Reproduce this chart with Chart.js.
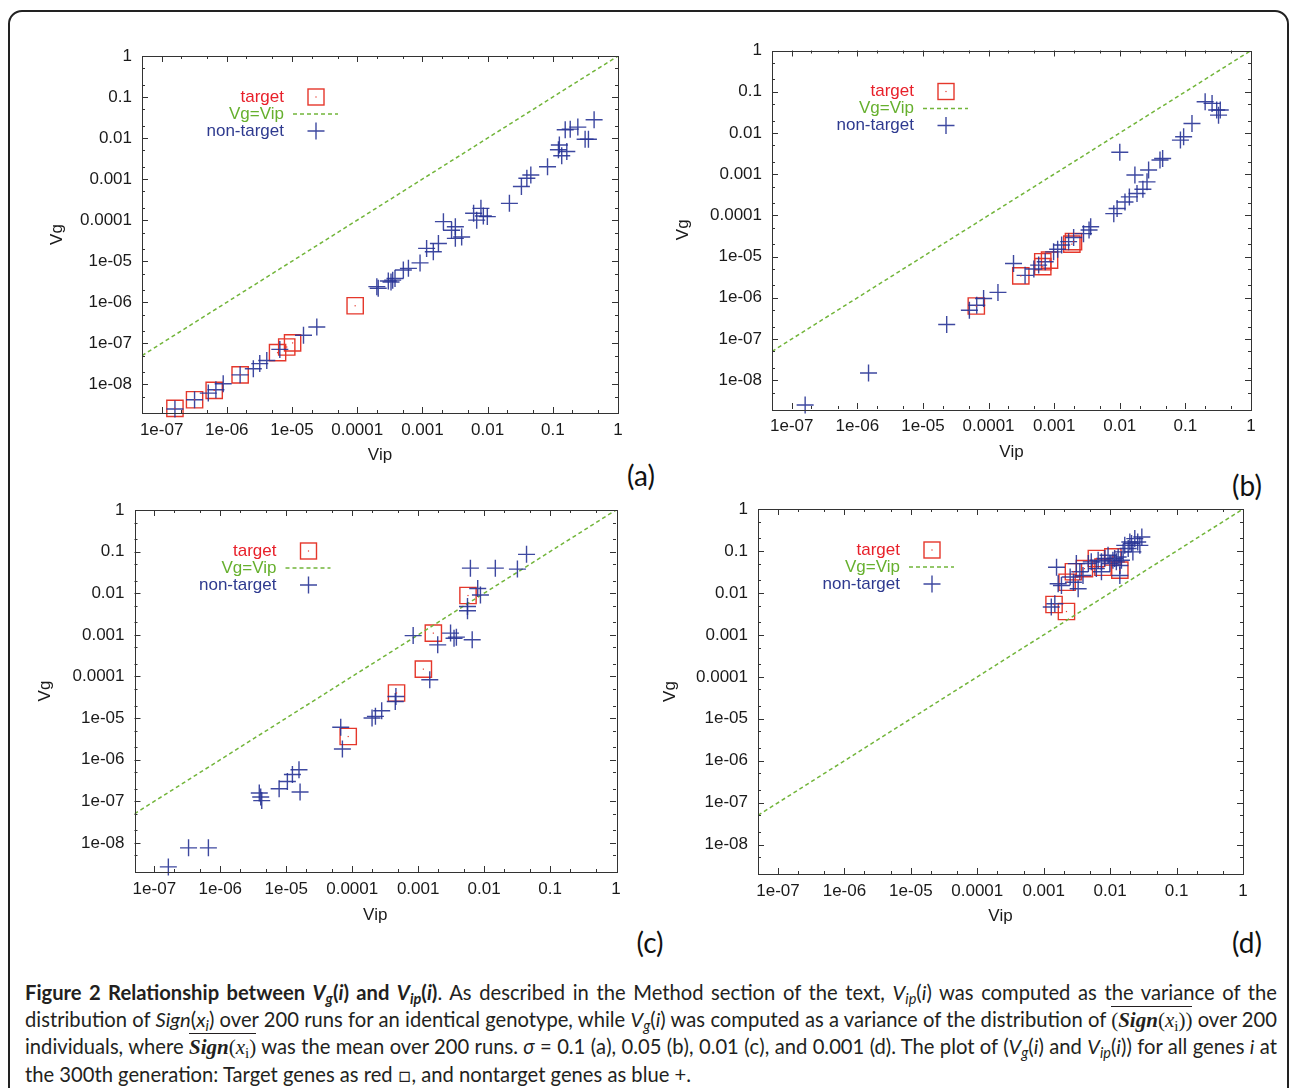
<!DOCTYPE html>
<html><head><meta charset="utf-8">
<script src="https://cdn.jsdelivr.net/npm/chart.js@4"></script>
<style>
html,body{margin:0;padding:0;background:#fff;}
body{width:1290px;height:1088px;position:relative;overflow:hidden;}
#frame{position:absolute;left:8px;top:10px;width:1281px;height:1200px;border:2px solid #222;border-radius:14px;box-sizing:border-box;}
canvas{position:absolute;}
.plab{position:absolute;font-family:Lato,'Open Sans',sans-serif;font-size:28px;color:#111;transform:translate(-50%,-50%);line-height:1;}
#cap{position:absolute;left:25px;top:979px;width:1252px;font-family:Lato,'Open Sans',sans-serif;font-size:20.2px;line-height:26.7px;color:#231f20;}
#cap .ln{white-space:nowrap;}
#cap .j{text-align:justify;text-align-last:justify;white-space:normal;}
#cap sub{font-size:0.72em;vertical-align:-0.28em;line-height:0;}
#cap .m{font-family:'Liberation Serif','DejaVu Serif',serif;font-size:21px;}
#cap .ov{border-top:1.6px solid #231f20;padding-top:1px;}
</style></head>
<body>
<div id="frame"></div>
<div class="plab" style="left:641px;top:475px">(a)</div>
<div class="plab" style="left:1247px;top:485px">(b)</div>
<div class="plab" style="left:650px;top:942px">(c)</div>
<div class="plab" style="left:1247px;top:942px">(d)</div>
<div id="cap">
<div class="ln j"><b>Figure 2 Relationship between <i>V</i><sub><i>g</i></sub>(<i>i</i>) and <i>V</i><sub><i>ip</i></sub>(<i>i</i>)</b>. As described in the Method section of the text, <i>V</i><sub><i>ip</i></sub>(<i>i</i>) was computed as the variance of the</div>
<div class="ln j">distribution of <i>Sign</i>(<i>x<sub>i</sub></i>) over 200 runs for an identical genotype, while <i>V</i><sub><i>g</i></sub>(<i>i</i>) was computed as a variance of the distribution of <span class="m"><span class="ov">(<b><i>Sign</i></b>(<i>x</i><sub>i</sub>))</span></span> over 200</div>
<div class="ln j">individuals, where <span class="m"><span class="ov"><b><i>Sign</i></b>(<i>x</i><sub>i</sub>)</span></span> was the mean over 200 runs. <i>σ</i> = 0.1 (a), 0.05 (b), 0.01 (c), and 0.001 (d). The plot of (<i>V</i><sub><i>g</i></sub>(<i>i</i>) and <i>V</i><sub><i>ip</i></sub>(<i>i</i>)) for all genes <i>i</i> at</div>
<div class="ln">the 300th generation: Target genes as red <span style="font-family:'DejaVu Sans'">▫</span>, and nontarget genes as blue +.</div>
</div>
<script>
// ---------- data ----------
const xTickValues = [1e-7, 1e-6, 1e-5, 1e-4, 1e-3, 1e-2, 1e-1, 1];
const xTickLabels = ['1e-07', '1e-06', '1e-05', '0.0001', '0.001', '0.01', '0.1', '1'];
const yTickValues = [1e-8, 1e-7, 1e-6, 1e-5, 1e-4, 1e-3, 1e-2, 1e-1, 1];
const yTickLabels = ['1e-08', '1e-07', '1e-06', '1e-05', '0.0001', '0.001', '0.01', '0.1', '1'];
const xRange = [5e-8, 1];
const yRange = [2e-9, 1];
const lineVip = [5e-8, 1];
const lineVg = [5e-8, 1];
const seriesNames = ['target', 'Vg=Vip', 'non-target'];

// panel (a) sigma = 0.1
const aTargetVip = [1.6e-7, 3.2e-7, 6.4e-7, 1.6e-6, 6.0e-6, 8.3e-6, 1.02e-5, 9.3e-5];
const aTargetVg  = [2.6e-9, 4.2e-9, 7.1e-9, 1.7e-8, 5.9e-8, 8.1e-8, 1.02e-7, 8.2e-7];
const aOtherVip = [1.6e-7, 3.2e-7, 5.2e-7, 6.8e-7, 8.8e-7, 1.6e-6, 2.55e-6, 3.2e-6, 4.1e-6, 6.5e-6, 1.5e-5, 2.4e-5,
  2.0e-4, 2.1e-4, 3.0e-4, 3.5e-4, 3.8e-4, 3.3e-4, 5.1e-4, 6.1e-4, 9.2e-4, 1.16e-3, 1.47e-3, 1.76e-3, 2.1e-3, 2.8e-3,
  3.2e-3, 3.2e-3, 4.0e-3, 6.1e-3, 6.8e-3, 7.9e-3, 8.6e-3, 9.9e-3, 2.16e-2, 3.3e-2, 4.0e-2, 4.6e-2, 8.3e-2, 0.122,
  0.137, 0.164, 0.126, 0.155, 0.185, 0.242, 0.313, 0.352, 0.43];
const aOtherVg = [2.5e-9, 4.2e-9, 6.1e-9, 7.4e-9, 1.03e-8, 1.7e-8, 2.4e-8, 3.2e-8, 3.8e-8, 7.1e-8, 1.57e-7, 2.5e-7,
  2.4e-6, 2.2e-6, 3.3e-6, 3.45e-6, 3.8e-6, 3.1e-6, 6.1e-6, 6.7e-6, 9.1e-6, 2.05e-5, 1.7e-5, 2.7e-5, 9.2e-5, 5.7e-5,
  6.9e-5, 3.6e-5, 3.9e-5, 1.47e-4, 1.0e-4, 1.94e-4, 1.26e-4, 1.22e-4, 2.57e-4, 6.6e-4, 1.05e-3, 1.26e-3, 2.0e-3, 5.2e-3,
  3.7e-3, 4.7e-3, 6.8e-3, 1.59e-2, 1.65e-2, 1.85e-2, 9.4e-3, 9.4e-3, 2.8e-2];

// panel (b) sigma = 0.05
const bTargetVip = [6.5e-5, 3.1e-4, 6.7e-4, 8.5e-4, 6.7e-4, 1.86e-3, 1.97e-3];
const bTargetVg  = [6.3e-7, 3.4e-6, 7.5e-6, 8.2e-6, 5.7e-6, 2.0e-5, 2.3e-5];
const bOtherVip = [1.6e-7, 1.48e-6, 2.3e-5, 5.1e-5, 6.6e-5, 8.4e-5, 1.39e-4, 2.4e-4, 3.6e-4, 4.9e-4, 5.8e-4, 7.3e-4,
  9.8e-4, 1.13e-3, 1.3e-3, 1.66e-3, 1.98e-3, 2.8e-3, 3.4e-3, 3.6e-3, 8.1e-3, 9.1e-3, 1.0e-2, 1.2e-2, 1.4e-2, 1.7e-2,
  1.83e-2, 2.25e-2, 2.6e-2, 2.75e-2, 4.1e-2, 4.5e-2, 8.4e-2, 9.4e-2, 0.126, 0.20, 0.255, 0.30, 0.34, 0.32];
const bOtherVg = [2.5e-9, 1.5e-8, 2.25e-7, 5.0e-7, 6.6e-7, 9.6e-7, 1.35e-6, 6.8e-6, 3.5e-6, 5.0e-6, 6.2e-6, 7.5e-6,
  1.3e-5, 1.5e-5, 1.9e-5, 2.3e-5, 2.9e-5, 3.6e-5, 4.4e-5, 5.3e-5, 1.1e-4, 1.47e-4, 3.4e-3, 2.1e-4, 2.8e-4, 9.5e-4,
  3.4e-4, 4.3e-4, 6.5e-4, 1.26e-3, 2.2e-3, 2.4e-3, 6.7e-3, 8.1e-3, 1.7e-2, 5.7e-2, 5.2e-2, 3.6e-2, 3.6e-2, 2.7e-2];

// panel (c) sigma = 0.01
const cTargetVip = [8.7e-5, 4.7e-4, 1.2e-3, 1.7e-3, 5.7e-3];
const cTargetVg  = [3.6e-6, 4.0e-5, 1.5e-4, 1.1e-3, 8.8e-3];
const cOtherVip = [1.63e-7, 3.3e-7, 6.6e-7, 3.9e-6, 4.1e-6, 4.25e-6, 7.8e-6, 1.04e-5, 1.24e-5, 1.56e-5, 1.62e-5, 6.7e-5,
  7.1e-5, 2.0e-4, 2.25e-4, 2.8e-4, 4.5e-4, 4.6e-4, 8.4e-4, 1.5e-3, 1.98e-3, 3.1e-3, 3.5e-3, 3.8e-3, 6.6e-3, 5.6e-3,
  5.6e-3, 6.2e-3, 8.0e-3, 8.8e-3, 1.48e-2, 3.2e-2, 4.4e-2];
const cOtherVg = [2.65e-9, 7.6e-9, 7.6e-9, 1.58e-7, 1.27e-7, 1.04e-7, 2.0e-7, 3.0e-7, 4.4e-7, 5.75e-7, 1.67e-7, 6.0e-6,
  1.8e-6, 1.0e-5, 1.1e-5, 1.5e-5, 2.5e-5, 3.3e-5, 9.6e-4, 8.3e-5, 5.75e-4, 1.1e-3, 8.3e-4, 8.8e-4, 7.6e-4, 4.8e-3,
  3.8e-3, 4.0e-2, 1.3e-2, 9.1e-3, 4.0e-2, 3.8e-2, 8.6e-2];

// panel (d) sigma = 0.001
const dTargetVip = [1.43e-3, 2.2e-3, 2.25e-3, 2.8e-3, 4.1e-3, 6.2e-3, 7.8e-3, 1.1e-2, 1.4e-2];
const dTargetVg  = [5.3e-3, 3.6e-3, 1.8e-2, 3.2e-2, 3.8e-2, 6.6e-2, 4.1e-2, 7.2e-2, 3.5e-2];
const dOtherVip = [1.3e-3, 1.47e-3, 1.56e-3, 1.65e-3, 1.85e-3, 2.5e-3, 2.8e-3, 3.1e-3, 3.3e-3, 3.5e-3, 3.9e-3, 4.7e-3,
  5.2e-3, 6.2e-3, 6.6e-3, 7.4e-3, 7.4e-3, 8.3e-3, 9.3e-3, 9.9e-3, 1.1e-2, 1.17e-2, 1.24e-2, 1.32e-2, 1.4e-2, 1.4e-2,
  1.48e-2, 1.57e-2, 1.66e-2, 1.87e-2, 1.98e-2, 2.1e-2, 2.35e-2, 2.6e-2, 2.8e-2, 3.0e-2, 2.2e-2];
const dOtherVg = [4.6e-3, 5.5e-3, 4.1e-2, 1.66e-2, 1.5e-2, 2.4e-2, 1.8e-2, 5.0e-2, 1.26e-2, 3.2e-2, 2.6e-2, 5.0e-2,
  5.5e-2, 3.8e-2, 6.0e-2, 3.2e-2, 5.5e-2, 6.6e-2, 7.9e-2, 5.0e-2, 6.0e-2, 6.6e-2, 5.5e-2, 7.2e-2, 4.5e-2, 2.6e-2,
  6.0e-2, 9.5e-2, 0.136, 0.114, 0.164, 0.15, 0.197, 0.164, 0.136, 0.216, 9.5e-2];

// ---------- styling / geometry ----------
const FONT = "'Liberation Sans', Arial, sans-serif";
const FS = 17, LH = FS * 1.2;
const RED = '#e5372b', GREEN = '#72b53a', BLUE = 'rgba(40,52,150,0.9)';
const TXT = { 'target': '#e8202a', 'Vg=Vip': '#66b02e', 'non-target': '#2e3a8f' };
const panels = [
  { L: 142, T: 56, R: 618, B: 413, vgX: 57, vipY: 455, t: [aTargetVip, aTargetVg], o: [aOtherVip, aOtherVg] },
  { L: 772, T: 50.5, R: 1251, B: 409, vgX: 683, vipY: 452, t: [bTargetVip, bTargetVg], o: [bOtherVip, bOtherVg] },
  { L: 134.5, T: 510, R: 616, B: 872, vgX: 45, vipY: 915, t: [cTargetVip, cTargetVg], o: [cOtherVip, cOtherVg] },
  { L: 758, T: 509, R: 1243, B: 874, vgX: 670, vipY: 916, t: [dTargetVip, dTargetVg], o: [dOtherVip, dOtherVg] }
];

const pts = (xs, ys) => xs.map((x, i) => ({ x, y: ys[i] }));

const framePlugin = {
  id: 'gnuframe',
  afterDatasetsDraw(chart) {
    const ctx = chart.ctx;
    const meta = chart.getDatasetMeta(0);
    ctx.save();
    ctx.fillStyle = RED;
    meta.data.forEach(p => { ctx.fillRect(p.x - 0.6, p.y - 0.6, 1.2, 1.2); });
    ctx.restore();
  },
  afterDraw(chart) {
    const { ctx, chartArea: a, scales: { x, y } } = chart;
    ctx.save();
    ctx.strokeStyle = '#333';
    ctx.lineWidth = 1;
    ctx.strokeRect(Math.round(a.left) + 0.5, Math.round(a.top) + 0.5, Math.round(a.right - a.left), Math.round(a.bottom - a.top));
    ctx.beginPath();
    for (let e = -9; e <= 0; e++) {
      for (const m of [1, 2, 5]) {
        const v = m * Math.pow(10, e);
        const len = m === 1 ? 6 : 3;
        if (v > xRange[0] && v < xRange[1]) {
          const px = Math.round(x.getPixelForValue(v)) + 0.5;
          ctx.moveTo(px, a.bottom); ctx.lineTo(px, a.bottom - len);
          ctx.moveTo(px, a.top); ctx.lineTo(px, a.top + len);
        }
        if (v > yRange[0] && v < yRange[1]) {
          const py = Math.round(y.getPixelForValue(v)) + 0.5;
          ctx.moveTo(a.left, py); ctx.lineTo(a.left + len, py);
          ctx.moveTo(a.right, py); ctx.lineTo(a.right - len, py);
        }
      }
    }
    ctx.stroke();
    // legend
    ctx.font = FS + 'px ' + FONT;
    ctx.textAlign = 'right';
    ctx.textBaseline = 'middle';
    chart.data.datasets.forEach((ds, i) => {
      const ly = a.top + 41 + 17 * i;
      ctx.fillStyle = TXT[ds.label];
      ctx.fillText(ds.label, a.left + 142, ly);
      const mx = a.left + 174;
      ctx.lineWidth = 1.4;
      if (ds.pointStyle === 'rect') {
        ctx.strokeStyle = RED;
        ctx.strokeRect(mx - 8, ly - 8, 16, 16);
        ctx.fillStyle = RED;
        ctx.fillRect(mx - 0.6, ly - 0.6, 1.2, 1.2);
      } else if (ds.showLine) {
        ctx.strokeStyle = GREEN;
        ctx.setLineDash([4, 3]);
        ctx.beginPath(); ctx.moveTo(a.left + 151, ly); ctx.lineTo(a.left + 196, ly); ctx.stroke();
        ctx.setLineDash([]);
      } else {
        ctx.strokeStyle = BLUE;
        ctx.beginPath();
        ctx.moveTo(mx - 8.5, ly); ctx.lineTo(mx + 8.5, ly);
        ctx.moveTo(mx, ly - 8.5); ctx.lineTo(mx, ly + 8.5);
        ctx.stroke();
      }
    });
    ctx.restore();
  }
};

panels.forEach(g => {
  const cl = Math.floor(g.vgX - 22), ct = Math.floor(g.T - 25);
  const cw = Math.ceil(g.R + 22) - cl, ch = Math.ceil(g.vipY + 22) - ct;
  const padLeft = g.vgX - LH / 2 - cl;
  const yW = g.L - (g.vgX - LH / 2);
  const padTop = g.T - ct;
  const padRight = cl + cw - g.R;
  const xH = g.vipY + LH / 2 - g.B;
  const padBottom = ct + ch - (g.vipY + LH / 2);
  const cv = document.createElement('canvas');
  cv.width = cw; cv.height = ch;
  cv.style.left = cl + 'px'; cv.style.top = ct + 'px';
  cv.style.width = cw + 'px'; cv.style.height = ch + 'px';
  document.body.appendChild(cv);
  new Chart(cv, {
    type: 'scatter',
    data: {
      datasets: [
        { label: seriesNames[0], data: pts(g.t[0], g.t[1]), pointStyle: 'rect', pointRadius: 11.5,
          borderColor: RED, pointBorderColor: RED, backgroundColor: 'rgba(0,0,0,0)', pointBackgroundColor: 'rgba(0,0,0,0)',
          pointBorderWidth: 1.4, order: 2, clip: false },
        { label: seriesNames[1], data: pts(lineVip, lineVg), showLine: true, pointRadius: 0, borderColor: GREEN,
          borderWidth: 1.5, borderDash: [4, 3], order: 1 },
        { label: seriesNames[2], data: pts(g.o[0], g.o[1]), pointStyle: 'cross', pointRadius: 8.5,
          borderColor: BLUE, pointBorderColor: BLUE, pointBorderWidth: 1.4, order: 0, clip: false }
      ]
    },
    options: {
      responsive: false, animation: false, events: [],
      layout: { padding: { left: padLeft, top: padTop, right: padRight, bottom: padBottom } },
      plugins: { legend: { display: false }, tooltip: { enabled: false } },
      scales: {
        x: {
          type: 'logarithmic', min: xRange[0], max: xRange[1],
          grid: { display: false, drawTicks: false, tickLength: 0 }, border: { display: false },
          afterBuildTicks: s => { s.ticks = xTickValues.map(v => ({ value: v })); },
          afterFit: s => { s.height = xH; },
          ticks: { autoSkip: false, maxRotation: 0, minRotation: 0, padding: 7, color: '#1a1a1a',
            font: { family: FONT, size: FS }, callback: (v, i) => xTickLabels[i] },
          title: { display: true, text: 'Vip', color: '#1a1a1a', padding: 0, font: { family: FONT, size: FS } }
        },
        y: {
          type: 'logarithmic', min: yRange[0], max: yRange[1],
          grid: { display: false, drawTicks: false, tickLength: 0 }, border: { display: false },
          afterBuildTicks: s => { s.ticks = yTickValues.map(v => ({ value: v })); },
          afterFit: s => { s.width = yW; },
          ticks: { autoSkip: false, padding: 10, color: '#1a1a1a',
            font: { family: FONT, size: FS }, callback: (v, i) => yTickLabels[i] },
          title: { display: true, text: 'Vg', color: '#1a1a1a', padding: 0, font: { family: FONT, size: FS } }
        }
      }
    },
    plugins: [framePlugin]
  });
});
</script>
</body></html>
